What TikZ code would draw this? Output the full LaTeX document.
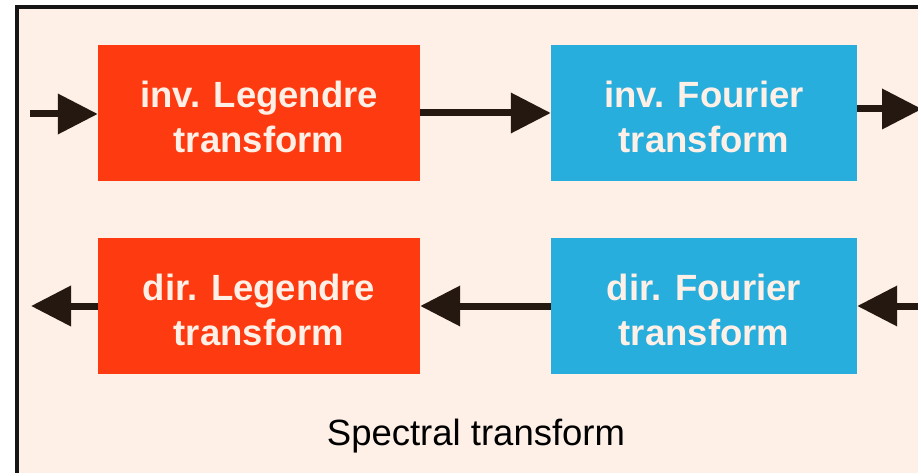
\documentclass[tikz,border=0pt]{standalone}
\usepackage{fontspec}
\setmainfont{Liberation Sans}
\usetikzlibrary{arrows.meta}
\definecolor{bgpeach}{HTML}{FEF0E6}
\definecolor{boxred}{HTML}{FD3A10}
\definecolor{boxblue}{HTML}{28AEDC}
\definecolor{arrowbrown}{HTML}{251810}
\definecolor{framegray}{HTML}{151515}
\newcommand{\tstrut}{\rule{0pt}{35pt}}
\tikzset{
  x=1pt, y=-1pt,
  tbox/.style={minimum width=#1, minimum height=136pt, inner sep=0pt, align=center,
    text=bgpeach, font=\fontsize{36.5}{45}\selectfont\bfseries},
  redbox/.style={tbox=322pt, fill=boxred},
  bluebox/.style={tbox=306pt, fill=boxblue},
  flow/.style={draw=arrowbrown, line width=7pt,
    -{Triangle[length=40pt,width=39pt]}}
}
\begin{document}
\begin{tikzpicture}
\useasboundingbox (0,0) rectangle (918,473);
\begin{scope}
\clip (0,0) rectangle (918,473);
\draw[framegray, line width=4.2pt, fill=bgpeach] (17,7) rectangle (960,520);
\end{scope}
\node[redbox] (invL) at (259,113) {\tstrut inv. Legendre\\transform};
\node[bluebox] (invF) at (704,113) {\tstrut inv. Fourier\\transform};
\node[redbox] (dirL) at (259,306) {\tstrut dir. Legendre\\transform};
\node[bluebox] (dirF) at (704,306) {\tstrut dir. Fourier\\transform};
\coordinate (inL) at (30,114);
\coordinate (outR) at (922,109);
\coordinate (inR) at (960,306);
\coordinate (outL) at (31,306);
\draw[flow] (inL) -- (invL.west |- inL);
\draw[flow] (invL) -- (invF);
\draw[flow] (invF.east |- outR) -- (outR);
\draw[flow] (inR) -- (dirF);
\draw[flow] (dirF) -- (dirL);
\draw[flow] (dirL) -- (outL);
\node[anchor=base, font=\fontsize{36.5}{42}\selectfont, text=black] (title) at (476,445) {Spectral transform};
\end{tikzpicture}
\end{document}
